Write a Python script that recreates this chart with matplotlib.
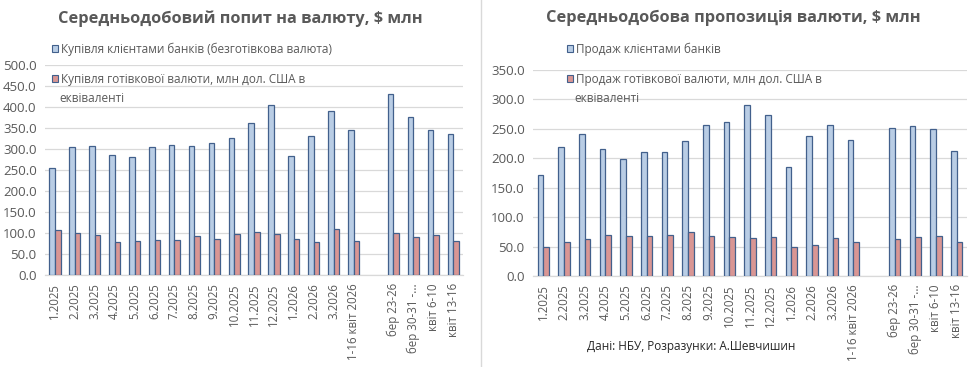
#!/usr/bin/env python
"""Average daily FX demand / supply (NBU data), two bar panels side by side."""

import numpy as np
import matplotlib
matplotlib.use("Agg")
import matplotlib.pyplot as plt
from matplotlib.lines import Line2D

plt.rcParams["font.family"] = ["Open Sans", "DejaVu Sans"]

categories = ["1.2025", "2.2025", "3.2025", "4.2025", "5.2025", "6.2025",
              "7.2025", "8.2025", "9.2025", "10.2025", "11.2025", "12.2025",
              "1.2026", "2.2026", "3.2026", "1-16 квіт 2026", "",
              "бер 23-26", "бер 30-31 -...", "квіт 6-10", "квіт 13-16"]

# demand (left), NaN = empty spacer category
buy_cashless = [254, 305, 307, 286, 281, 305, 309, 307, 314, 326, 362, 405,
                283, 331, 390, 345, np.nan, 432, 376, 345, 336]
buy_cash = [107, 99.5, 95, 78, 80, 83, 83, 92, 85, 97, 102, 97,
            85, 78, 109, 80, np.nan, 99.5, 90, 95, 80]

# supply (right)
sell_cashless = [172, 219, 242, 216, 198, 210, 210, 230, 257, 262, 291, 274,
                 185, 238, 257, 231, np.nan, 252, 255, 250, 212]
sell_cash = [49, 57, 62.5, 69, 68, 68, 69, 74, 68, 66, 64, 66,
             49, 52, 64, 57, np.nan, 62.5, 66, 68, 57]

BLUE = "#B9CDE5"
RED = "#D99694"
EDGE = "#42608C"
GRID = "#D9D9D9"
TXT = "#595959"


def panel(ax, s1, s2, lab1, lab2, ymax):
    x = np.arange(len(categories))
    w = 0.28
    ax.bar(x - w / 2, s1, w, color=BLUE, edgecolor=EDGE, lw=0.9,
           label=lab1, zorder=3)
    ax.bar(x + w / 2, s2, w, color=RED, edgecolor=EDGE, lw=0.9,
           label=lab2, zorder=3)
    ax.set_xlim(-0.5, len(categories) - 0.5)
    ax.set_ylim(0, ymax)
    ax.set_yticks(np.arange(0, ymax + 1, 50))
    ax.yaxis.set_major_formatter(matplotlib.ticker.FormatStrFormatter("%.1f"))
    ax.set_xticks(x)
    ax.set_xticklabels(categories, rotation=90, fontsize=8.3, color=TXT)
    ax.tick_params(axis="y", labelsize=9.5, labelcolor=TXT, length=0, pad=6)
    ax.tick_params(axis="x", length=0, pad=6)
    ax.grid(axis="y", color=GRID, lw=0.9, zorder=0)
    for sp in ["top", "right", "left"]:
        ax.spines[sp].set_visible(False)
    ax.spines["bottom"].set_color(GRID)
    ax.spines["bottom"].set_linewidth(0.9)


fig = plt.figure(figsize=(9.7, 3.67), dpi=100)
ax1 = fig.add_axes([0.0464, 0.2507, 0.431, 0.5723])
ax2 = fig.add_axes([0.5495, 0.2480, 0.4474, 0.5613])

panel(ax1, buy_cashless, buy_cash,
      "Купівля клієнтами банків (безготівкова валюта)",
      "Купівля готівкової валюти, млн дол. США в", 500)
panel(ax2, sell_cashless, sell_cash,
      "Продаж клієнтами банків",
      "Продаж готівкової валюти, млн дол. США в", 350)

# legend in the top-left corner of each panel, wrapped second label
for ax, x0 in [(ax1, 0.0535), (ax2, 0.5845)]:
    leg = ax.legend(loc="upper left", bbox_to_anchor=(x0, 0.885),
                    bbox_transform=fig.transFigure, frameon=False,
                    fontsize=8.5, handlelength=0.5, handleheight=0.5,
                    handletextpad=0.25, labelspacing=1.45, borderaxespad=0,
                    borderpad=0)
    for t in leg.get_texts():
        t.set_color(TXT)
    for h in leg.legend_handles:
        h.set_linewidth(0.8)
    fig.text(x0 + 0.0075, 1 - 99 / 367, "еквіваленті", ha="left",
             va="center", fontsize=8.5, color=TXT)

fig.text(0.248, 0.95, "Середньодобовий попит на валюту, $ млн",
         ha="center", va="center", fontsize=11.8, fontweight="bold", color=TXT)
fig.text(0.756, 0.95, "Середньодобова пропозиція валюти, $ млн",
         ha="center", va="center", fontsize=11.8, fontweight="bold", color=TXT)
fig.text(0.713, 0.055, "Дані: НБУ, Розразунки: А.Шевчишин",
         ha="center", va="center", fontsize=8.5, color="#262626")

fig.add_artist(Line2D([0.496, 0.496], [0, 1], transform=fig.transFigure,
                      color="#D9D9D9", lw=1))

fig.savefig("out.png", dpi=100, facecolor="white")
